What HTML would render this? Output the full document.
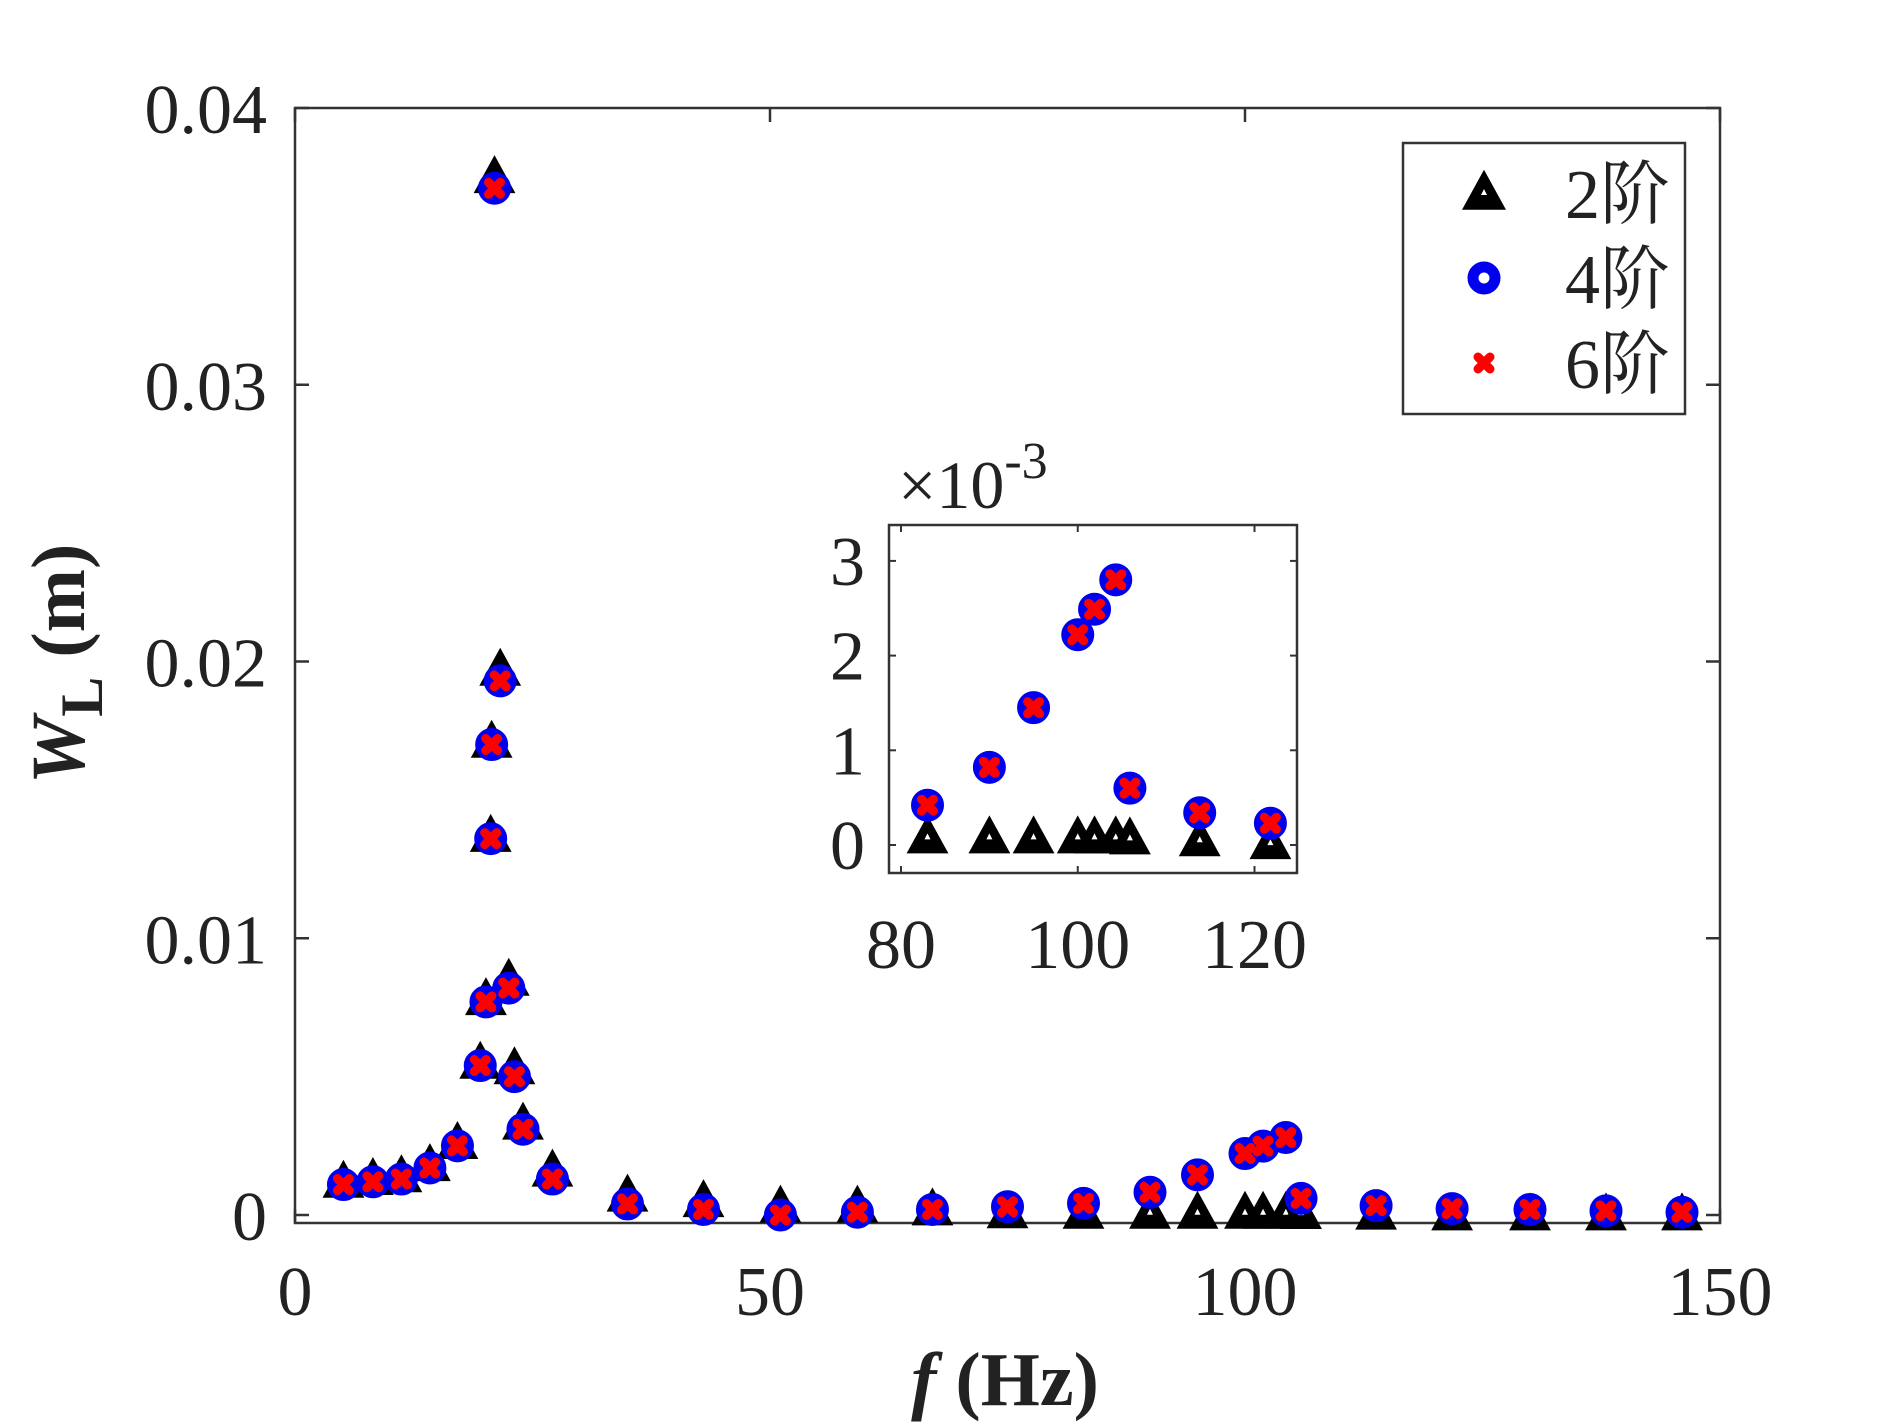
<!DOCTYPE html>
<html><head><meta charset="utf-8"><style>
html,body{margin:0;padding:0;background:#fff;}
svg{display:block;}
svg text{font-family:"Liberation Serif","Times New Roman","Noto Serif CJK SC",serif !important;fill:#222;}
</style></head><body>
<svg id="chart" width="1901" height="1426" viewBox="0 0 1901 1426" xmlns="http://www.w3.org/2000/svg" font-family="Liberation Serif, Noto Serif CJK SC, serif">
<g id="main"></g>
<g id="inset"></g>
<g id="legend"></g>
</svg>
<script>
const freqs = [5.1,8.2,11.2,14.2,17.1,19.5,20.1,20.6,20.7,21.0,21.6,22.5,23.1,24.0,27.1,35.0,43.0,51.1,59.2,67.1,75.0,83.0,90.0,95.0,100.0,101.9,104.3,105.9,113.8,121.8,130.0,138.0,146.0];
const order2 = [0.0012,0.0013,0.0014,0.0018,0.0026,0.0055,0.0078,0.0137,0.0171,0.0375,0.0197,0.0085,0.0053,0.0033,0.0016,0.0007,0.0005,0.0003,0.0003,0.0002,0.0001,0.00008,0.00008,0.00008,0.00008,0.00008,0.00008,0.00007,0.00005,0.00002,0.00002,0.00002,0.00002];
const order4 = [0.0011,0.0012,0.0013,0.0017,0.0025,0.0054,0.0077,0.0136,0.0170,0.0371,0.0193,0.0082,0.0050,0.0031,0.0013,0.0004,0.0002,0.0000,0.0001,0.0002,0.0003,0.00042,0.00082,0.00145,0.00222,0.00249,0.0028,0.0006,0.00034,0.00023,0.0002,0.00015,0.0001];
const order6 = order4.slice();
const mainXTicks = [0,50,100,150];
const mainYTicks = [0,0.01,0.02,0.03,0.04];
const mainYLabels = ["0","0.01","0.02","0.03","0.04"];
const insetXTicks = [80,100,120];
const insetYTicks = [0,1,2,3];
const legendLabels = ["2阶","4阶","6阶"];

const NS = "http://www.w3.org/2000/svg";
const FF = '"Liberation Serif", "Noto Serif CJK SC", serif';
function mk(parent, tag, attrs, txt){
  const e = document.createElementNS(NS, tag);
  for (const k in attrs) e.setAttribute(k, attrs[k]);
  if (tag === 'text') e.style.fontFamily = FF;
  if (txt !== undefined) e.textContent = txt;
  parent.appendChild(e); return e;
}
const M = {l:295, r:1720, t:108, b:1223};
const mx = v => M.l + (v-0)/150*(M.r-M.l);
const my = v => 1215 - v*27675;
const I = {l:889, r:1297, t:525, b:873};
const ix = v => 901 + (v-80)*8.8375;
const iy = v => 845 - v*94.7;
const inInset = f => f >= 78.7 && f <= 124.7;

function tri(g, x, y, s, name){
  const w = s*1.1, h = s;
  const t = mk(g,'path',{d:`M${x-w/2},${y+h*0.42} L${x+w/2},${y+h*0.42} L${x},${y-h*0.58} Z`, fill:'#000'});
  
  
  mk(g,'path',{d:`M${x-3},${y+2} L${x+3},${y+2} L${x},${y-4} Z`, fill:'#fff'});
}
function circ(g, x, y, name){
  const c = mk(g,'circle',{cx:x, cy:y, r:11, fill:'none', stroke:'#0000ee', 'stroke-width':11});
  
  
}
function cross(g, x, y, name){
  const c = mk(g,'path',{d:`M${x-6},${y-6} L${x+6},${y+6} M${x+6},${y-6} L${x-6},${y+6}`, stroke:'#ff0000', 'stroke-width':9, 'stroke-linecap':'round'});
  
  
}

const gm = document.getElementById('main');
mk(gm,'rect',{x:M.l,y:M.t,width:M.r-M.l,height:M.b-M.t,fill:'none',stroke:'#333','stroke-width':2.5});
mainXTicks.forEach(v=>{
  const x = mx(v);
  mk(gm,'line',{x1:x,y1:M.b,x2:x,y2:M.b-14,stroke:'#333','stroke-width':2.5});
  mk(gm,'line',{x1:x,y1:M.t,x2:x,y2:M.t+14,stroke:'#333','stroke-width':2.5});
  const t = mk(gm,'text',{x:x,y:1315,'font-size':70,'text-anchor':'middle'}, String(v));
  
  
});
mainYTicks.forEach((v,i)=>{
  const y = my(v);
  mk(gm,'line',{x1:M.l,y1:y,x2:M.l+14,y2:y,stroke:'#333','stroke-width':2.5});
  mk(gm,'line',{x1:M.r,y1:y,x2:M.r-14,y2:y,stroke:'#333','stroke-width':2.5});
  const t = mk(gm,'text',{x:267,y:y+25,'font-size':70,'text-anchor':'end'}, mainYLabels[i]);
  
  
});
const xl = mk(gm,'text',{x:1005,y:1405,'font-size':76,'font-weight':'bold','text-anchor':'middle'});


mk(xl,'tspan',{'font-style':'italic'},'f');
mk(xl,'tspan',{},' (Hz)');
const yl = mk(gm,'text',{x:0,y:0,'font-size':76,'font-weight':'bold','text-anchor':'middle',transform:'translate(84,664) rotate(-90)'});


mk(yl,'tspan',{'font-style':'italic'},'W');
mk(yl,'tspan',{dy:18,'font-size':60},'L');
mk(yl,'tspan',{dy:-18},' (m)');

freqs.forEach((f,i)=>tri(gm, mx(f), my(order2[i]), 38, 'point-order2'));
freqs.forEach((f,i)=>circ(gm, mx(f), my(order4[i]), 'point-order4'));
freqs.forEach((f,i)=>cross(gm, mx(f), my(order6[i]), 'point-order6'));

const gi = document.getElementById('inset');
mk(gi,'rect',{x:I.l,y:I.t,width:I.r-I.l,height:I.b-I.t,fill:'#fff',stroke:'#333','stroke-width':2.5});
insetXTicks.forEach(v=>{
  const x = ix(v);
  mk(gi,'line',{x1:x,y1:I.b,x2:x,y2:I.b-7,stroke:'#333','stroke-width':2});
  mk(gi,'line',{x1:x,y1:I.t,x2:x,y2:I.t+7,stroke:'#333','stroke-width':2});
  const t = mk(gi,'text',{x:x,y:968,'font-size':70,'text-anchor':'middle'}, String(v));
  
  
});
insetYTicks.forEach(v=>{
  const y = iy(v);
  mk(gi,'line',{x1:I.l,y1:y,x2:I.l+7,y2:y,stroke:'#333','stroke-width':2});
  mk(gi,'line',{x1:I.r,y1:y,x2:I.r-7,y2:y,stroke:'#333','stroke-width':2});
  const t = mk(gi,'text',{x:865,y:y+24,'font-size':70,'text-anchor':'end'}, String(v));
  
  
});
const ex = mk(gi,'text',{x:898,y:508,'font-size':68});


mk(ex,'tspan',{},'×10');
mk(ex,'tspan',{dy:-30,'font-size':52},'-3');
freqs.forEach((f,i)=>{ if(inInset(f)) tri(gi, ix(f), iy(order2[i]*1000), 38, 'inset-point-order2'); });
freqs.forEach((f,i)=>{ if(inInset(f)) circ(gi, ix(f), iy(order4[i]*1000), 'inset-point-order4'); });
freqs.forEach((f,i)=>{ if(inInset(f)) cross(gi, ix(f), iy(order6[i]*1000), 'inset-point-order6'); });

const gl = document.getElementById('legend');
mk(gl,'rect',{x:1403,y:143,width:282,height:271,fill:'#fff',stroke:'#333','stroke-width':2.5});
const rows = [193,278,363];
tri(gl, 1484, rows[0], 40, 'legend-marker-order2');
circ(gl, 1484, rows[1], 'legend-marker-order4');
cross(gl, 1484, rows[2], 'legend-marker-order6');
legendLabels.forEach((s,i)=>{
  const t = mk(gl,'text',{x:1565,y:rows[i]+25,'font-size':70}, s);
  
  
});
</script>
</body></html>
